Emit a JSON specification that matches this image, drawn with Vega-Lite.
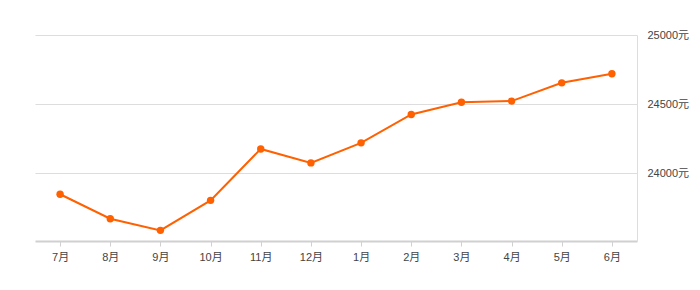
{
  "$schema": "https://vega.github.io/schema/vega-lite/v6.json",
  "width": 602,
  "height": 206,
  "padding": {"left": 35, "top": 29, "right": 5, "bottom": 5},
  "background": "white",
  "data": {
    "values": [
      {"month": "7月", "price": 23848},
      {"month": "8月", "price": 23671},
      {"month": "9月", "price": 23587},
      {"month": "10月", "price": 23804},
      {"month": "11月", "price": 24176},
      {"month": "12月", "price": 24075},
      {"month": "1月", "price": 24220},
      {"month": "2月", "price": 24425},
      {"month": "3月", "price": 24514},
      {"month": "4月", "price": 24522},
      {"month": "5月", "price": 24654},
      {"month": "6月", "price": 24720}
    ]
  },
  "mark": {"type": "line", "color": "#ff6000", "strokeWidth": 2, "point": {"filled": true, "size": 55, "color": "#ff6000", "opacity": 1}},
  "encoding": {
    "x": {
      "field": "month",
      "type": "ordinal",
      "sort": null,
      "scale": {"type": "point", "padding": 0.5},
      "axis": {
        "title": null,
        "labelAngle": 0,
        "grid": false,
        "domainColor": "#d0d0d0",
        "domainWidth": 2,
        "tickColor": "#d0d0d0",
        "tickSize": 5,
        "labelPadding": 5,
        "labelColor": "#444444",
        "labelFontSize": 11,
        "labelFont": "Liberation Sans, Noto Sans CJK SC"
      }
    },
    "y": {
      "field": "price",
      "type": "quantitative",
      "scale": {"domain": [23510, 25000], "nice": false, "zero": false},
      "axis": {
        "title": null,
        "orient": "right",
        "values": [24000, 24500, 25000],
        "grid": true,
        "gridColor": "#dddddd",
        "domain": true,
        "domainColor": "#dddddd",
        "ticks": false,
        "labelPadding": 10,
        "labelExpr": "datum.value + '元'",
        "labelColor": "#444444",
        "labelFontSize": 11,
        "labelFont": "Liberation Sans, Noto Sans CJK SC"
      }
    }
  },
  "config": {"view": {"stroke": null}}
}
